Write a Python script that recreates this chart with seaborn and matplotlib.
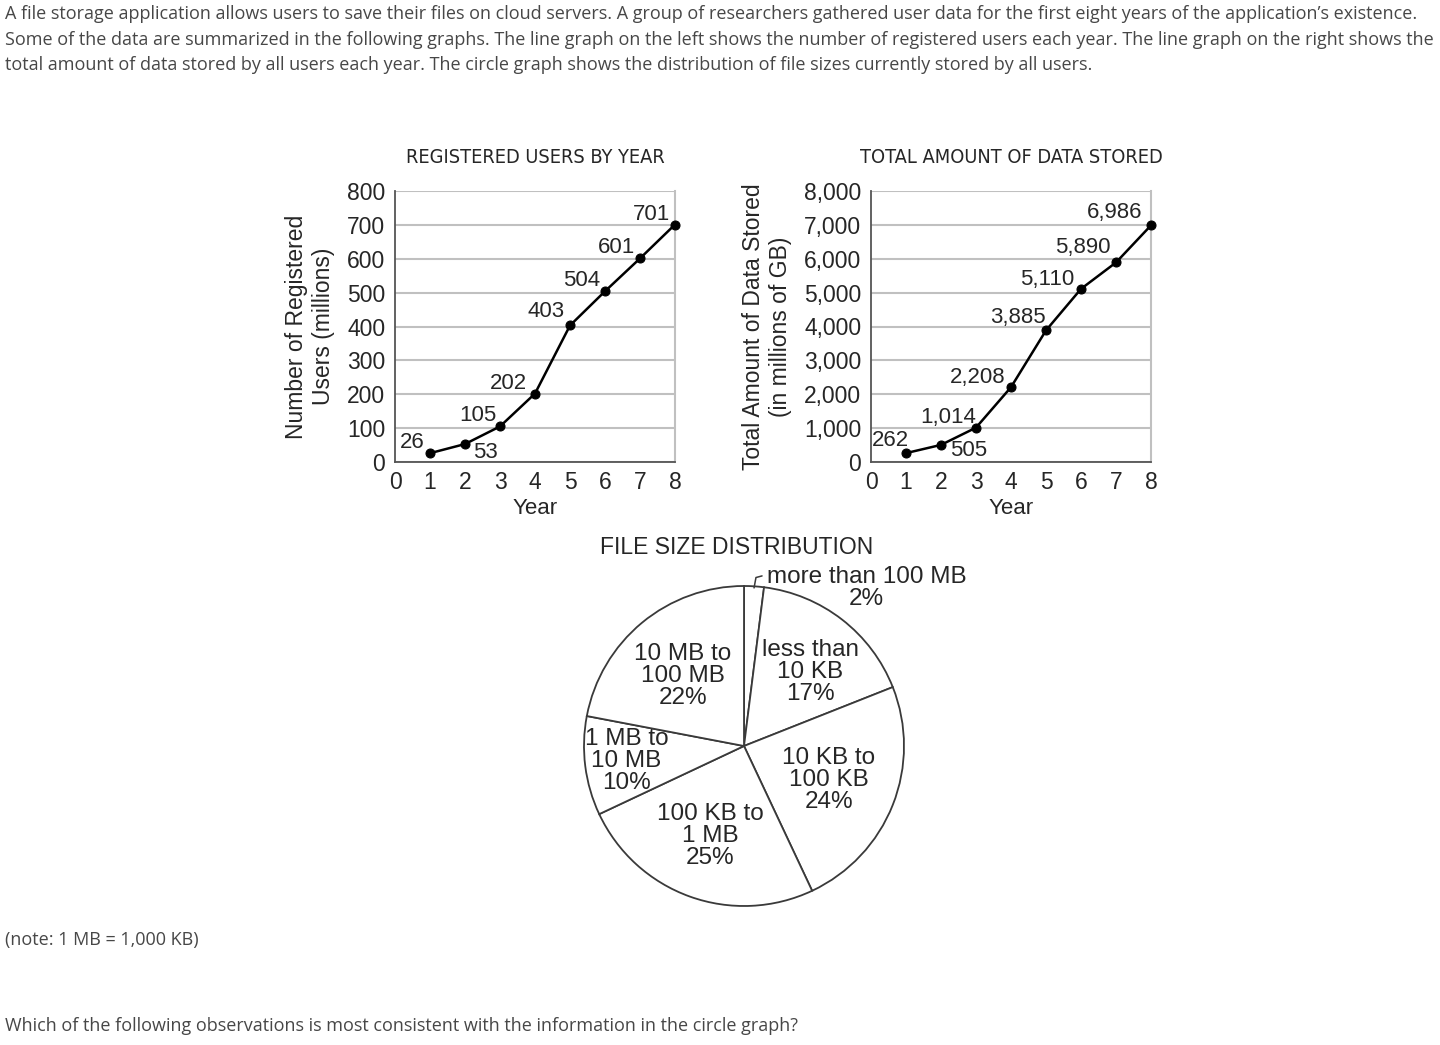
import numpy as np
import pandas as pd
import seaborn as sns
import matplotlib.pyplot as plt
from matplotlib.ticker import StrMethodFormatter

# data
years = [1, 2, 3, 4, 5, 6, 7, 8]
users = [26, 53, 105, 202, 403, 504, 601, 701]
user_labels = ["26", "53", "105", "202", "403", "504", "601", "701"]
stored = [262, 505, 1014, 2208, 3885, 5110, 5890, 6986]
stored_labels = ["262", "505", "1,014", "2,208", "3,885", "5,110", "5,890", "6,986"]

size_groups = ["more than 100 MB", "less than\n10 KB", "10 KB to\n100 KB",
               "100 KB to\n1 MB", "1 MB to\n10 MB", "10 MB to\n100 MB"]
size_shares = [2, 17, 24, 25, 10, 22]

intro_lines = [
    "A file storage application allows users to save their files on cloud servers. "
    "A group of researchers gathered user data for the first eight years of the application\u2019s existence.",
    "Some of the data are summarized in the following graphs. The line graph on the left shows the number "
    "of registered users each year. The line graph on the right shows the",
    "total amount of data stored by all users each year. The circle graph shows the distribution "
    "of file sizes currently stored by all users.",
]
note = "(note: 1 MB = 1,000 KB)"
question = "Which of the following observations is most consistent with the information in the circle graph?"

# label offsets in points (style only)
user_offsets = [(-13, 8), (15, -6), (-16, 8), (-19, 7), (-17, 10), (-17, 8), (-17, 8), (-17, 7)]
stored_offsets = [(-11, 9), (20, -4), (-20, 7), (-24, 7), (-20, 9), (-24, 7), (-24, 11), (-26, 9)]
# pie label placement: radius fraction and small angle nudge (degrees)
pie_label_r = [None, 0.62, 0.57, 0.60, 0.74, 0.58]
pie_label_nudge = [0, -4, 0, -1, 0, 1.4]

sns.set_theme(style="white")
plt.rcParams["font.family"] = ["Liberation Sans", "DejaVu Sans"]

W, H = 1440, 1045
fig = plt.figure(figsize=(W / 100, H / 100), dpi=100)


def box(x0, y0, x1, y1):
    return [x0 / W, 1 - y1 / H, (x1 - x0) / W, (y1 - y0) / H]


grey = "#c0c0c0"
dark = "#555555"
txt = "#262626"


def line_chart(ax, y, labels, offsets, ymax, step, title, ylabel):
    df = pd.DataFrame({"Year": years, "val": y})
    sns.lineplot(data=df, x="Year", y="val", ax=ax, color="black", marker="o",
                 markersize=6.5, markeredgecolor="black", linewidth=1.8, zorder=5,
                 clip_on=False)
    ax.set_xlim(0, 8)
    ax.set_ylim(0, ymax)
    ax.set_xticks(range(0, 9))
    ax.set_yticks(np.arange(0, ymax + 1, step))
    ax.yaxis.set_major_formatter(StrMethodFormatter("{x:,.0f}"))
    ax.yaxis.grid(True, color=grey, linewidth=1.5)
    ax.set_axisbelow(True)
    ax.spines["top"].set_visible(False)
    ax.spines["right"].set_color(grey)
    ax.spines["right"].set_linewidth(1.5)
    for s in ["left", "bottom"]:
        ax.spines[s].set_color(dark)
        ax.spines[s].set_linewidth(1.3)
    ax.tick_params(axis="y", direction="out", length=6, width=1.2, color=dark,
                   labelsize=16.5, labelcolor=txt, pad=1)
    ax.tick_params(axis="x", direction="inout", length=9, width=1.2, color=dark,
                   labelsize=16.5, labelcolor=txt, pad=2)
    ax.set_xlabel("Year", fontsize=16, color=txt, labelpad=3)
    ax.set_ylabel(ylabel, fontsize=16.5, color=txt, linespacing=1.2, labelpad=9)
    ax.set_title(title, fontsize=14.3, color=txt, pad=20,
                 family="DejaVu Sans", fontstretch="condensed")
    for xv, yv, lab, off in zip(years, y, labels, offsets):
        ax.annotate(lab, (xv, yv), xytext=off, textcoords="offset points",
                    ha="center", va="center", fontsize=16, color=txt)


ax1 = fig.add_axes(box(395, 191, 675, 462))
line_chart(ax1, users, user_labels, user_offsets, 800, 100,
           "REGISTERED USERS BY YEAR", "Number of Registered\nUsers (millions)")

ax2 = fig.add_axes(box(871, 191, 1151, 462))
line_chart(ax2, stored, stored_labels, stored_offsets, 8000, 1000,
           "TOTAL AMOUNT OF DATA STORED", "Total Amount of Data Stored\n(in millions of GB)")

# pie chart
pad = 1.06
r_px = 160
cx, cy = 744, 746
ax3 = fig.add_axes(box(cx - r_px * pad, cy - r_px * pad, cx + r_px * pad, cy + r_px * pad))
wedges, _ = ax3.pie(size_shares, startangle=90, counterclock=False, radius=1,
                    colors=["white"] * len(size_shares),
                    wedgeprops=dict(edgecolor="#3a3a3a", linewidth=1.3))
ax3.set_xlim(-pad, pad)
ax3.set_ylim(-pad, pad)
ax3.set_aspect("equal")
ax3.axis("off")

for w, lab, share, rr, nudge in zip(wedges, size_groups, size_shares, pie_label_r, pie_label_nudge):
    mid = np.deg2rad((w.theta1 + w.theta2) / 2 + nudge)
    if rr is None:
        x0, y0 = np.cos(mid), np.sin(mid)
        ax3.plot([x0, x0 + 0.012, x0 + 0.05], [y0 - 0.01, y0 + 0.055, y0 + 0.065],
                 color="#3a3a3a", linewidth=1.1, clip_on=False)
        ax3.text(0.765, 0.99, f"{lab}\n{share}%", ha="center", va="center",
                 fontsize=17.5, color=txt, linespacing=1.0)
    else:
        ax3.text(rr * np.cos(mid), rr * np.sin(mid), f"{lab}\n{share}%", ha="center",
                 va="center", fontsize=17.5, color=txt, linespacing=1.0)

fig.text(737 / W, 1 - 547 / H, "FILE SIZE DISTRIBUTION", ha="center", va="center",
         fontsize=16.5, color=txt)

# surrounding question text
para_font = ["Open Sans", "DejaVu Sans"]
para_kw = dict(ha="left", va="center", fontsize=13, color="#474747", family=para_font)
for line, ypx in zip(intro_lines, [14, 40, 65]):
    fig.text(5 / W, 1 - ypx / H, line, **para_kw)
fig.text(5 / W, 1 - 940 / H, note, **para_kw)
fig.text(5 / W, 1 - 1026 / H, question, **para_kw)

fig.savefig("out.png", dpi=100, facecolor="white")
